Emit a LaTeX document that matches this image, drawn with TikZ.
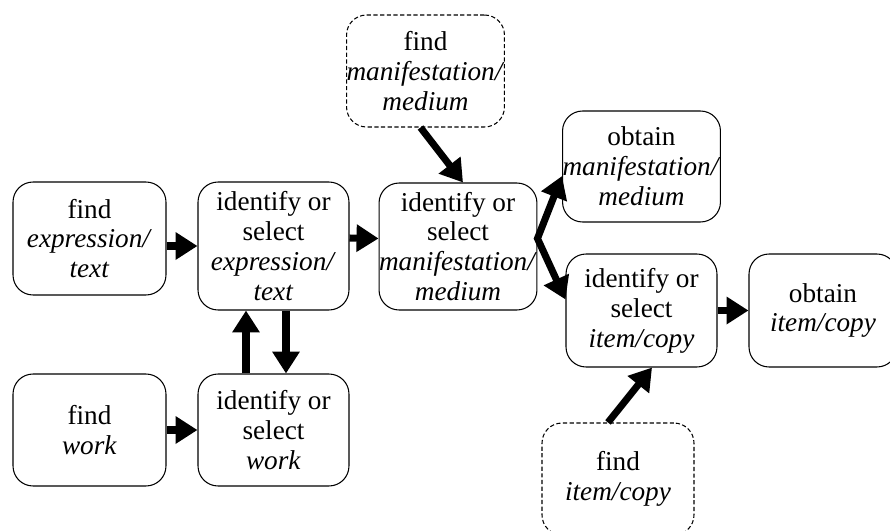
\documentclass[tikz,border=0pt]{standalone}
\usepackage{fontspec}
\setmainfont{Liberation Serif}
\usetikzlibrary{calc,arrows.meta}
\tikzset{
	task/.style={draw, line width=0.6pt, rounded corners=0.4cm, align=center, inner sep=0pt,
		font=\fontsize{15.5}{17}\selectfont},
	optional/.style={task, dash pattern=on 2.4pt off 1.4pt},
	arr/.style={line width=4pt, -{Triangle[length=12.5pt,width=15pt]}},
	fork/.style={line width=4pt, line join=miter, {Triangle[length=12.5pt,width=15pt]}-{Triangle[length=12.5pt,width=15pt]}}
}

\begin{document}
\begin{tikzpicture}[x=0.02cm, y=-0.02cm]
			%%%%% START %%%%%
			\useasboundingbox (0, 0) rectangle (890, 531);
			\clip (0, 0) rectangle (890, 531);
			
			\node[task, minimum width=3.06cm, minimum height=2.26cm] (findexpr) at (89.5, 238.5) {find\\\textit{expression/}\\\textit{text}};
			\node[task, minimum width=3.02cm, minimum height=2.56cm] (idexpr) at (273.5, 246) {identify or\\select\\\textit{expression/}\\\textit{text}};
			\node[task, minimum width=3.04cm, minimum height=2.54cm] (idmanif) at (458, 246.5) {identify or\\select\\\textit{manifestation/}\\\textit{medium}};
			\node[optional, minimum width=3.06cm, minimum height=2.24cm] (findmanif) at (425.5, 71) {find\\\textit{manifestation/}\\\textit{medium}};
			\node[task, minimum width=3.02cm, minimum height=2.22cm] (getmanif) at (641.5, 166.5) {obtain\\\textit{manifestation/}\\\textit{medium}};
			\node[task, minimum width=3.02cm, minimum height=2.26cm] (iditem) at (641.5, 310.5) {identify or\\select\\\textit{item/copy}};
			\node[task, minimum width=2.96cm, minimum height=2.26cm] (getitem) at (823, 310.5) {obtain\\\textit{item/copy}};
			\node[task, minimum width=3.06cm, minimum height=2.24cm] (findwork) at (89.5, 430) {find\\\textit{work}};
			\node[task, minimum width=3.02cm, minimum height=2.24cm] (idwork) at (273.5, 430) {identify or\\select\\\textit{work}};
			\node[optional, minimum width=3.04cm, minimum height=2.24cm] (finditem) at (618, 479) {find\\\textit{item/copy}};
			
			% flow
			\draw[arr] (findexpr.east |- idexpr.west) -- (idexpr.west);
			\draw[arr] ($(idexpr.east)+(0, -8)$) -- ($(idmanif.west)+(0, -8)$);
			\draw[arr] ($(findmanif.south)+(-5, 0)$) -- ($(idmanif.north)+(5, 0)$);
			
			\coordinate (split) at ($(idmanif.east)+(0, -8)$);
			\draw[fork] ($(getmanif.west)+(0, 9.5)$) -- (split) -- ($(iditem.west)+(0, -11)$);
			
			\draw[arr] (iditem.east) -- (getitem.west);
			\draw[arr] ($(finditem.north)+(-10, 0)$) -- ($(iditem.south)+(10.5, 0)$);
			
			\draw[arr] (findwork.east) -- (idwork.west);
			\draw[arr] ($(idwork.north)+(-27.5, 0)$) -- ($(idexpr.south)+(-27.5, 0)$);
			\draw[arr] ($(idexpr.south)+(12.5, 0)$) -- ($(idwork.north)+(12.5, 0)$);
			
			%%%%% END %%%%%
\end{tikzpicture}
\end{document}
